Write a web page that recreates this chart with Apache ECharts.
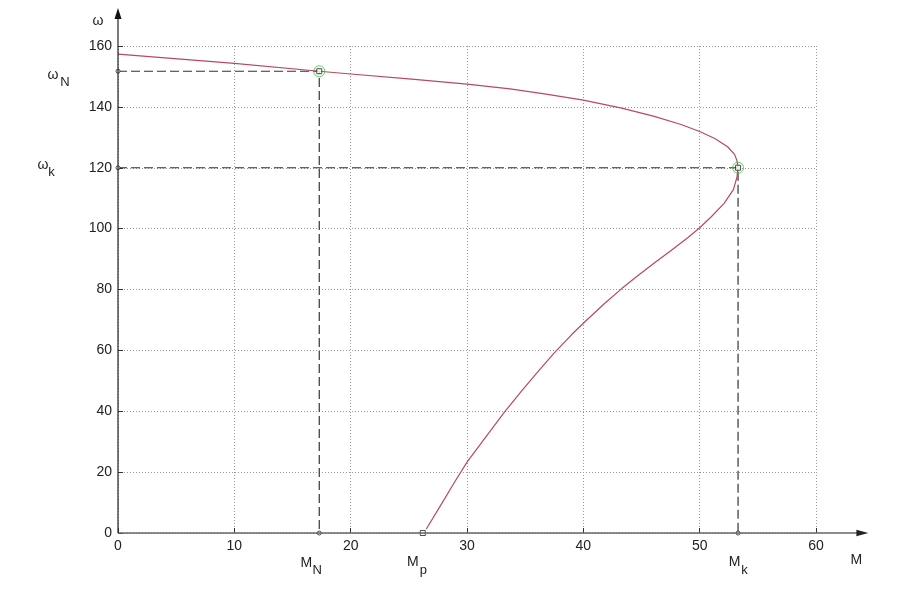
<!DOCTYPE html>
<html><head><meta charset="utf-8">
<script src="https://cdn.jsdelivr.net/npm/echarts@6/dist/echarts.min.js"></script>
<style>html,body{margin:0;padding:0;background:#fff}#c{width:900px;height:600px}</style>
</head><body><div id="c"></div>
<script>
// Curve M(ω), in drawing order (upper branch, then lower branch)
const curveM = [0, 10, 17.3, 20, 25, 30, 33.7, 36.8, 40.0, 43.3, 46.1, 48.4, 50.0, 51.3, 52.4, 53.0, 53.2, 53.3, 53.2, 52.9, 52.1, 51.0, 50.0, 49.0, 47.6, 46.1, 44.7, 43.3, 41.8, 40.0, 39.0, 37.5, 36.1, 34.7, 33.2, 31.8, 30.0, 28.9, 27.8, 26.5];
const curveW = [157.3, 154.3, 151.7, 150.8, 149.2, 147.5, 145.9, 144.2, 142.2, 139.6, 136.9, 134.2, 131.9, 129.6, 126.9, 124.4, 122.4, 120, 116.8, 112.8, 108.3, 103.9, 100.3, 97.1, 93.0, 88.7, 84.6, 80.3, 75.3, 68.9, 65.2, 59.2, 53.0, 46.7, 39.6, 32.5, 23.3, 16.5, 9.5, 1.3];
// Characteristic points
const MN = 17.3, wN = 151.7;
const Mk = 53.3, wk = 120;
const Mp = 26.2;
const xAxisEnd = 64.5, yAxisEnd = 172.5;
const xTickStep = 10, yTickStep = 20;
const xMax = 60, yMax = 160;

const FONT = "'Liberation Sans', Arial, sans-serif";
const chart = echarts.init(document.getElementById('c'));
const curve = curveM.map((m, i) => [m, curveW[i]]);
const dashStyle = { color: '#333', width: 1.2, type: [9, 4] };

chart.setOption({
  animation: false,
  backgroundColor: '#fff',
  grid: { left: 118, right: 84, top: 46, bottom: 67 },
  xAxis: {
    type: 'value', min: 0, max: xMax, interval: xTickStep,
    axisLine: { show: false },
    axisTick: { show: true, inside: true, length: 5, lineStyle: { color: '#333' } },
    axisLabel: { fontSize: 14, color: '#222', fontFamily: FONT, margin: 6 },
    splitLine: { show: true, lineStyle: { color: '#999', type: [1, 2], width: 1 } }
  },
  yAxis: {
    type: 'value', min: 0, max: yMax, interval: yTickStep,
    axisLine: { show: false },
    axisTick: { show: true, inside: true, length: 5, lineStyle: { color: '#333' } },
    axisLabel: { fontSize: 14, color: '#222', fontFamily: FONT, margin: 6 },
    splitLine: { show: true, lineStyle: { color: '#999', type: [1, 2], width: 1 } }
  },
  series: [
    { type: 'line', symbol: 'none', data: [[0, wN], [MN, wN], [MN, 0]], lineStyle: dashStyle, z: 3 },
    { type: 'line', symbol: 'none', data: [[0, wk], [Mk, wk], [Mk, 0]], lineStyle: dashStyle, z: 3 },
    { type: 'line', symbol: 'none', smooth: false, data: curve,
      lineStyle: { color: '#b84a5e', width: 1.2, join: 'round' }, z: 4 },
    { type: 'scatter', clip: false, z: 5, symbol: 'circle', symbolSize: 11,
      data: [[MN, wN], [Mk, wk]],
      itemStyle: { color: 'rgba(0,0,0,0)', borderColor: '#44bb44', borderWidth: 1 } },
    { type: 'scatter', clip: false, z: 6, symbol: 'rect', symbolSize: 5,
      data: [[MN, wN], [Mk, wk], [Mp, 0]],
      itemStyle: { color: '#fff', borderColor: '#222', borderWidth: 1 } },
    { type: 'scatter', clip: false, z: 6, symbol: 'circle', symbolSize: 4,
      data: [[0, wN], [0, wk], [MN, 0], [Mk, 0]],
      itemStyle: { color: '#fff', borderColor: '#222', borderWidth: 1 } }
  ]
});

function px(x, y) { return chart.convertToPixel({ gridIndex: 0 }, [x, y]); }
function txt(text, x, y, size) {
  return { type: 'text', x: x, y: y, silent: true, z: 10,
    style: { text: text, fontSize: size || 14, fontFamily: FONT, fill: '#222', align: 'center', verticalAlign: 'middle' } };
}
const o = px(0, 0);
const pN = px(MN, wN), pk = px(Mk, wk), pp = px(Mp, 0), pTop = px(0, yAxisEnd), pEnd = px(xAxisEnd, 0);
chart.setOption({
  graphic: [
    { type: 'line', silent: true, z: 8, shape: { x1: o[0], y1: o[1], x2: pEnd[0] - 8, y2: o[1] },
      style: { stroke: '#666', lineWidth: 1.6 } },
    { type: 'polygon', silent: true, z: 8,
      shape: { points: [[pEnd[0], o[1]], [pEnd[0] - 12, o[1] - 3.2], [pEnd[0] - 12, o[1] + 3.2]] },
      style: { fill: '#222' } },
    { type: 'line', silent: true, z: 8, shape: { x1: o[0], y1: o[1], x2: o[0], y2: pTop[1] + 8 },
      style: { stroke: '#222', lineWidth: 1.2 } },
    { type: 'polygon', silent: true, z: 8,
      shape: { points: [[o[0], pTop[1]], [o[0] - 3.5, pTop[1] + 11], [o[0] + 3.5, pTop[1] + 11]] },
      style: { fill: '#111' } },
    txt('ω', o[0] - 20, pTop[1] + 13),
    txt('ω', o[0] - 65, pN[1] + 4), txt('N', o[0] - 53, pN[1] + 11, 13),
    txt('ω', o[0] - 75, pk[1] - 3), txt('k', o[0] - 66.5, pk[1] + 4.5, 13),
    txt('M', pN[0] - 13, o[1] + 30), txt('N', pN[0] - 2, o[1] + 37, 13),
    txt('M', pp[0] - 10, o[1] + 29), txt('p', pp[0] + 0.5, o[1] + 37.5, 13),
    txt('M', pk[0] - 3.5, o[1] + 29), txt('k', pk[0] + 6.5, o[1] + 37, 13),
    txt('M', pEnd[0] - 12, o[1] + 27)
  ]
});
</script>
</body></html>
